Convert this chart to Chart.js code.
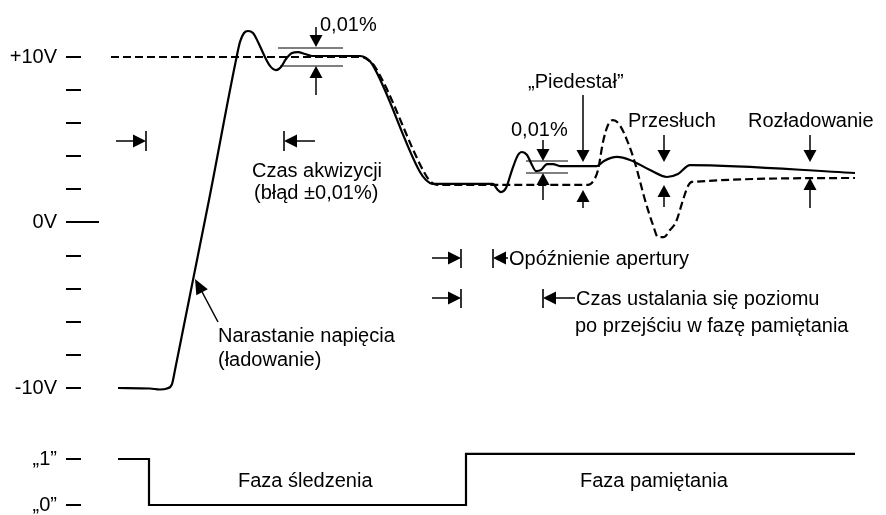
<!DOCTYPE html>
<html><head><meta charset="utf-8">
<script src="https://cdn.jsdelivr.net/npm/chart.js@4.4.0/dist/chart.umd.min.js"></script>
<style>html,body{margin:0;padding:0;background:#fff}#wrap{width:886px;height:515px;position:relative}</style>
</head><body><div id="wrap"><canvas id="c"></canvas></div>
<script>
// Output of the sample & hold (solid), time in arbitrary units, volts
const outputX = [118,150,160,167,172,175,209,236,240,244,248,253,258,264,270,276,281,286,292,298,305,312,360,366,372,420,426,433,493,497,501,506,512,518,522,527,531,536,541,547,553,560,597,604,617,630,650,667,678,690,855];
const outputV = [-10,-10.03,-10.09,-10.03,-9.76,-8.91,1.36,9.82,10.91,11.45,11.57,11.45,10.91,10.12,9.46,9.21,9.40,9.88,10.24,10.30,10.18,10.06,10.06,9.94,9.58,3.05,2.57,2.33,2.33,2.02,1.84,2.08,3.17,4.08,4.26,4.08,3.60,3.11,3.17,3.53,3.53,3.41,3.41,3.72,3.96,3.78,3.17,2.75,2.93,3.47,2.99];
// Input signal (dashed)
const inputX = [111,362,368,375,424,430,437,588,594,598,603,608,613,619,627,635,645,653,658,664,670,676,683,688,692,855];
const inputV = [10,10,9.82,9.40,3.05,2.51,2.27,2.27,2.57,3.17,4.86,5.89,6.19,5.95,4.98,3.60,1.36,-0.15,-0.88,-0.88,-0.45,0.03,1.36,2.21,2.45,2.69];
// Track/hold logic control
const logicX = [118,149,149,466,466,855];
const logicLevel = [1,1,0,0,1.11,1.11];
// Tick labels
const voltTicks = [10,8,6,4,2,0,-2,-4,-6,-8,-10];
const voltTickLabels = {"10":"+10V","0":"0V","-10":"-10V"};
const logicTicks = [1,0];
const logicTickLabels = {"1":"\u201E1\u201D","0":"\u201E0\u201D"};

const V_MAX = 13.444, V_MIN = -17.674;
const L_MAX = 10.978, L_MIN = -0.2174;
const FONT = '"Liberation Sans", Arial, Helvetica, sans-serif';
const FS = 20;
function logicToVolt(l){ return V_MIN + (l - L_MIN)/(L_MAX - L_MIN)*(V_MAX - V_MIN); }
const logicTickVolts = logicTicks.map(logicToVolt);

function zip(xs, ys){ return xs.map((x,i)=>({x:x, y:ys[i]})); }

function tri(ctx, tx, ty, ang, len, half){
  const c=Math.cos(ang), s=Math.sin(ang);
  const bx=tx-len*c, by=ty-len*s;
  ctx.beginPath();
  ctx.moveTo(tx,ty);
  ctx.lineTo(bx - half*s, by + half*c);
  ctx.lineTo(bx + half*s, by - half*c);
  ctx.closePath(); ctx.fill();
}
function seg(ctx,x1,y1,x2,y2,w){ ctx.lineWidth=w||1.5; ctx.beginPath(); ctx.moveTo(x1,y1); ctx.lineTo(x2,y2); ctx.stroke(); }
const DOWN=Math.PI/2, UP=-Math.PI/2, RIGHT=0, LEFT=Math.PI;

const annot = {
  id:'annot',
  afterDraw(chart){
    const ctx=chart.ctx; ctx.save();
    ctx.strokeStyle='#000'; ctx.fillStyle='#000';
    const y0 = Math.round(chart.scales.y.getPixelForValue(0));
    seg(ctx, 66, y0, 99, y0, 2);
    ctx.font=FS+'px '+FONT; ctx.textBaseline='alphabetic'; ctx.textAlign='left';
    // top 0,01%
    ctx.fillText('0,01%', 320, 31);
    seg(ctx,316,27,316,37); tri(ctx,316,47,DOWN,12,6.5);
    seg(ctx,278,48,343,48,1.2); seg(ctx,280,66,343,66,1.2);
    tri(ctx,316,66,UP,12,6.5); seg(ctx,316,76,316,95);
    // acquisition markers
    seg(ctx,116,141,135,141); tri(ctx,146,141,RIGHT,13,6.5); seg(ctx,146,131,146,151,1.6);
    seg(ctx,284,131,284,151,1.6); tri(ctx,284,141,LEFT,13,6.5); seg(ctx,295,141,315,141);
    ctx.fillText('Czas akwizycji', 252, 177);
    ctx.fillText('(b\u0142\u0105d \u00B10,01%)', 254, 199);
    // slew
    ctx.fillText('Narastanie napi\u0119cia', 218, 342);
    ctx.fillText('(\u0142adowanie)', 218, 366);
    const ang=Math.atan2(279-322,195-218);
    seg(ctx,218,322,200,288); tri(ctx,195,279,ang,15,6.5);
    // pedestal
    ctx.fillText('\u201EPiedesta\u0142\u201D', 528, 88);
    seg(ctx,583,95,583,151); tri(ctx,583,162,DOWN,12,6.5);
    tri(ctx,583,190,UP,12,6.5); seg(ctx,583,200,583,208);
    // second 0,01%
    ctx.fillText('0,01%', 511, 136);
    seg(ctx,543,140,543,150); tri(ctx,543,161,DOWN,12,6.5);
    seg(ctx,526,161,568,161,1.2); seg(ctx,526,173,568,173,1.2);
    tri(ctx,543,173,UP,12,6.5); seg(ctx,543,183,543,200);
    // feedthrough
    ctx.fillText('Przes\u0142uch', 628, 127);
    seg(ctx,664,135,664,151); tri(ctx,664,162,DOWN,12,6.5);
    tri(ctx,664,185,UP,12,6.5); seg(ctx,664,195,664,207);
    // droop
    ctx.fillText('Roz\u0142adowanie', 748, 127);
    seg(ctx,810,135,810,151); tri(ctx,810,162,DOWN,12,6.5);
    tri(ctx,810,178,UP,12,6.5); seg(ctx,810,188,810,208);
    // aperture delay
    seg(ctx,432,258,449,258); tri(ctx,461,258,RIGHT,13,6.5); seg(ctx,461,249,461,268,1.6);
    seg(ctx,493,249,493,268,1.6); tri(ctx,493,258,LEFT,13,6.5); seg(ctx,504,258,508,258);
    ctx.fillText('Op\u00F3\u017Anienie apertury', 509, 265);
    // settling
    seg(ctx,432,298,449,298); tri(ctx,461,298,RIGHT,13,6.5); seg(ctx,461,289,461,308,1.6);
    seg(ctx,543,289,543,308,1.6); tri(ctx,543,298,LEFT,13,6.5); seg(ctx,554,298,575,298);
    ctx.fillText('Czas ustalania si\u0119 poziomu', 576, 305);
    ctx.fillText('po przej\u015Bciu w faz\u0119 pami\u0119tania', 575, 332);
    // phases
    ctx.fillText('Faza \u015Bledzenia', 238, 487);
    ctx.fillText('Faza pami\u0119tania', 580, 487);
    ctx.restore();
  }
};

new Chart(document.getElementById('c'), {
  type:'line',
  data:{ datasets:[
    {data:zip(outputX,outputV), borderColor:'#000', borderWidth:2.2, pointRadius:0, cubicInterpolationMode:'monotone', fill:false, yAxisID:'y'},
    {data:zip(inputX,inputV), borderColor:'#000', borderWidth:2.2, borderDash:[8,4], pointRadius:0, cubicInterpolationMode:'monotone', fill:false, yAxisID:'y'},
    {data:zip(logicX,logicLevel), borderColor:'#000', borderWidth:2.2, pointRadius:0, tension:0, fill:false, yAxisID:'yL'}
  ]},
  options:{
    responsive:true, maintainAspectRatio:false, animation:false,
    layout:{padding:0},
    plugins:{legend:{display:false}, tooltip:{enabled:false}},
    scales:{
      x:{type:'linear', display:false, min:81, max:886},
      y:{position:'left', min:V_MIN, max:V_MAX,
         afterBuildTicks(s){ s.ticks = voltTicks.concat(logicTickVolts).map(v=>({value:v})); },
         afterFit(s){ s.width=81; s.paddingTop=0; s.paddingBottom=0; },
         ticks:{autoSkip:false, padding:9, color:'#000', font:{family:FONT, size:FS},
           callback(v){
             for(const k in voltTickLabels){ if(Math.abs(v-Number(k))<1e-6) return voltTickLabels[k]; }
             for(let i=0;i<logicTicks.length;i++){ if(Math.abs(v-logicTickVolts[i])<1e-6) return logicTickLabels[String(logicTicks[i])]; }
             return '';
           }},
         grid:{drawOnChartArea:false, drawTicks:true, tickLength:15, color:'#000', lineWidth:2},
         border:{display:false}},
      yL:{display:false, min:L_MIN, max:L_MAX}
    }
  },
  plugins:[annot]
});
</script></body></html>
